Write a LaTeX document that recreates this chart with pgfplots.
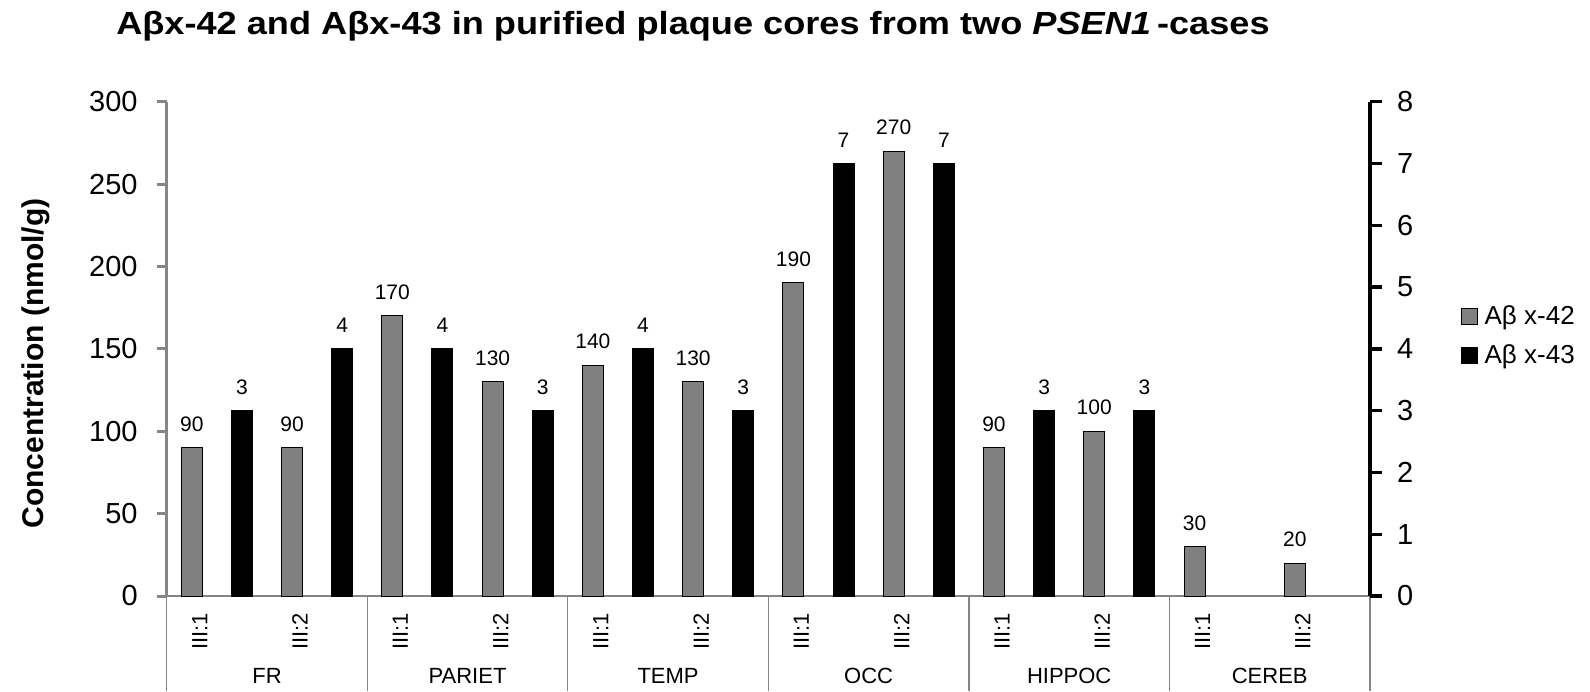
\documentclass[border=0pt]{standalone}
\usepackage{pgfplots}
\pgfplotsset{compat=1.18}
\usepackage{fontspec}
\setmainfont{Liberation Sans}
\definecolor{bargray}{RGB}{128,128,128}
\definecolor{axgray}{RGB}{134,134,134}
\begin{document}
\begin{tikzpicture}
\useasboundingbox (0,0) rectangle (795pt,345.5pt);
\begin{axis}[
 at={(83.35pt,47.5pt)}, anchor=south west, scale only axis,
 width=601.65pt, height=247.15pt,
 xmin=0, xmax=24, ymin=0, ymax=300,
 clip=false,
 axis y line*=left, axis x line*=bottom,
 axis line style={-},
 y axis line style={line width=1.5pt, draw=axgray},
 x axis line style={line width=0.6pt, draw=axgray},
 ytick={0,50,...,300},
 ytick style={line width=1.5pt, draw=axgray},
 tick align=outside, major tick length=5pt,
 yticklabel style={font=\fontsize{14.5}{16}\selectfont, xshift=-6pt},
 xtick={0.5,2.5,...,22.5},
 xticklabels={III:1,III:2,III:1,III:2,III:1,III:2,III:1,III:2,III:1,III:2,III:1,III:2},
 xtick style={draw=none},
 xticklabel style={rotate=90, anchor=east, font=\fontsize{11}{13}\selectfont, yshift=-4pt},
 /pgf/number format/assume math mode=true,
 ybar, bar width=10.5pt, bar shift=0pt,
 nodes near coords,
 nodes near coords style={font=\fontsize{10.5}{12}\selectfont, anchor=south, yshift=4.5pt, text=black},
 legend style={at={(1.075,0.526)}, anchor=west, draw=none, fill=none, inner sep=0pt,
   font=\fontsize{13}{15}\selectfont, row sep=5pt, /tikz/every even column/.append style={column sep=0pt},
   nodes={inner xsep=3.5pt}},
 legend cell align=left,
]
\addplot[fill=bargray, draw=black, line width=0.5pt, forget plot] coordinates {
 (0.5,90) (2.5,90) (4.5,170) (6.5,130) (8.5,140) (10.5,130)
 (12.5,190) (14.5,270) (16.5,90) (18.5,100) (20.5,30) (22.5,20)};
\addlegendimage{legend image code/.code={\draw[fill=bargray, draw=black, line width=0.5pt] (0pt,-4pt) rectangle (8pt,4pt);}}
\addlegendentry{Aβ x-42}
\addlegendimage{legend image code/.code={\draw[fill=black, draw=black, line width=0.5pt] (0pt,-4pt) rectangle (8pt,4pt);}}
\addlegendentry{Aβ x-43}
\draw[axgray, line width=0.6pt] (axis cs:0,0) -- ++(0,-47.5pt);
\draw[axgray, line width=0.6pt] (axis cs:4,0) -- ++(0,-47.5pt);
\draw[axgray, line width=0.6pt] (axis cs:8,0) -- ++(0,-47.5pt);
\draw[axgray, line width=0.6pt] (axis cs:12,0) -- ++(0,-47.5pt);
\draw[axgray, line width=0.6pt] (axis cs:16,0) -- ++(0,-47.5pt);
\draw[axgray, line width=0.6pt] (axis cs:20,0) -- ++(0,-47.5pt);
\draw[axgray, line width=0.6pt] (axis cs:24,0) -- ++(0,-47.5pt);
\node[anchor=base, font=\fontsize{11}{13}\selectfont, yshift=-43.5pt] at (axis cs:2,0) {FR};
\node[anchor=base, font=\fontsize{11}{13}\selectfont, yshift=-43.5pt] at (axis cs:6,0) {PARIET};
\node[anchor=base, font=\fontsize{11}{13}\selectfont, yshift=-43.5pt] at (axis cs:10,0) {TEMP};
\node[anchor=base, font=\fontsize{11}{13}\selectfont, yshift=-43.5pt] at (axis cs:14,0) {OCC};
\node[anchor=base, font=\fontsize{11}{13}\selectfont, yshift=-43.5pt] at (axis cs:18,0) {HIPPOC};
\node[anchor=base, font=\fontsize{11}{13}\selectfont, yshift=-43.5pt] at (axis cs:22,0) {CEREB};
\end{axis}
\begin{axis}[
 at={(83.35pt,47.5pt)}, anchor=south west, scale only axis,
 width=601.65pt, height=247.15pt,
 xmin=0, xmax=24, ymin=0, ymax=8,
 clip=false,
 axis y line*=right, axis x line=none, xtick=\empty,
 axis line style={-},
 y axis line style={line width=1.7pt, draw=black},
 ytick={0,1,...,8},
 ytick style={line width=1.7pt, draw=black},
 tick align=outside, major tick length=6pt,
 yticklabel style={font=\fontsize{14.5}{16}\selectfont, xshift=4pt},
 /pgf/number format/assume math mode=true,
 ybar, bar width=10.5pt, bar shift=0pt,
 nodes near coords,
 nodes near coords style={font=\fontsize{10.5}{12}\selectfont, anchor=south, yshift=4.5pt, text=black},
]
\addplot[fill=black, draw=black, line width=0.5pt] coordinates {
 (1.5,3) (3.5,4) (5.5,4) (7.5,3) (9.5,4) (11.5,3)
 (13.5,7) (15.5,7) (17.5,3) (19.5,3)};
\end{axis}
\node[anchor=base, xscale=1.13, transform shape, font=\bfseries\fontsize{16}{19}\selectfont] at (346.5pt,328pt) {Aβx-42 and Aβx-43 in purified plaque cores from two \textit{PSEN1}\,-cases};
\node[anchor=base, rotate=90, font=\bfseries\fontsize{15}{18}\selectfont] at (21.5pt,163.75pt) {Concentration (nmol/g)};
\end{tikzpicture}
\end{document}
